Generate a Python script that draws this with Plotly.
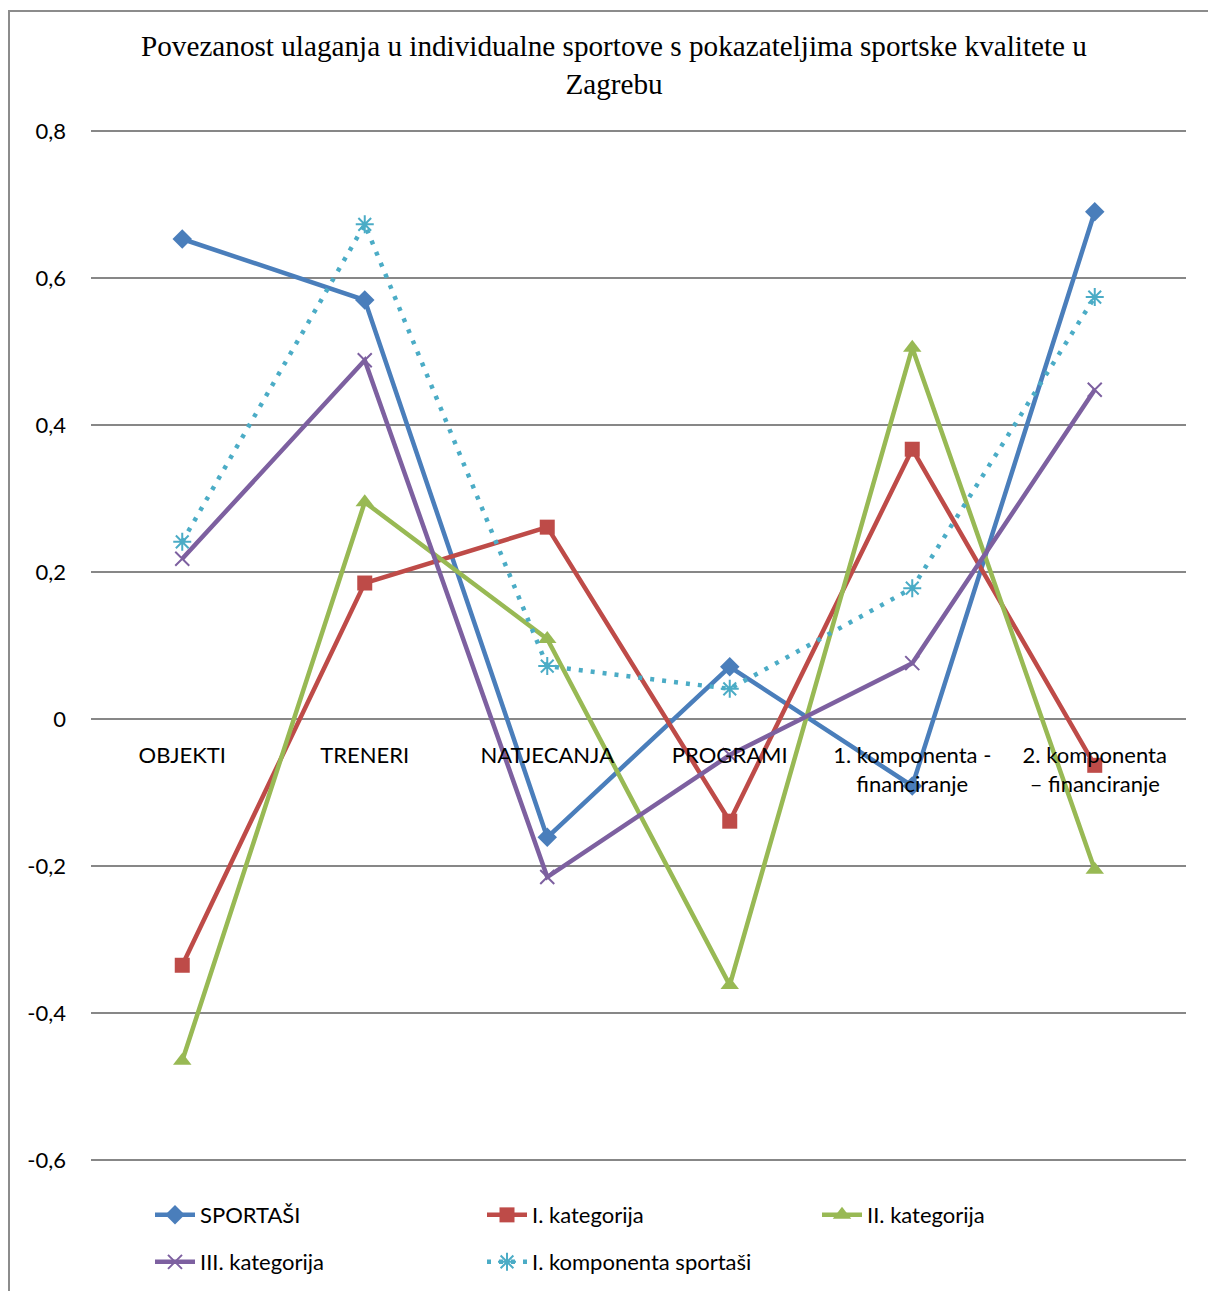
import plotly.graph_objects as go

# Categories and series values
categories = ["OBJEKTI", "TRENERI", "NATJECANJA", "PROGRAMI",
              "1. komponenta -<br>financiranje", "2. komponenta<br>– financiranje"]

sportasi = [0.653, 0.570, -0.161, 0.071, -0.091, 0.690]
kat_1 = [-0.335, 0.185, 0.261, -0.139, 0.367, -0.063]
kat_2 = [-0.465, 0.295, 0.109, -0.362, 0.505, -0.205]
kat_3 = [0.218, 0.488, -0.215, -0.049, 0.076, 0.448]
komp_sportasi = [0.241, 0.673, 0.072, 0.041, 0.178, 0.574]

y_tickvals = [-0.6, -0.4, -0.2, 0, 0.2, 0.4, 0.6, 0.8]
y_ticktext = ["-0,6", "-0,4", "-0,2", "0", "0,2", "0,4", "0,6", "0,8"]

W, H = 1208, 1291
# small padding on the value range so the -0,6 and 0,8 grid lines are drawn
PAD = 0.004
PX_PER_UNIT = 1029 / 1.4
L, R = 91, 22
T = B = 131 - PAD * PX_PER_UNIT
PW, PH = W - L - R, H - T - B


def px_x(p):
    return (p - L) / PW


def px_y(p):
    return (H - B - p) / PH


FONT = "Lato"
FS = 22
GRID = "#878787"

series = [
    ("SPORTAŠI", sportasi, "#4A7EBB", dict(symbol="diamond", size=15), "solid", "legend"),
    ("I. kategorija", kat_1, "#BE4B48", dict(symbol="square", size=15), "solid", "legend"),
    ("II. kategorija", kat_2, "#98B954", dict(symbol="triangle-up", size=16), "solid", "legend3"),
    ("III. kategorija", kat_3, "#7D60A0",
     dict(symbol="x-thin-open", size=14, line=dict(width=2, color="#7D60A0")), "solid", "legend2"),
    ("I. komponenta sportaši", komp_sportasi, "#4BACC6",
     dict(symbol="asterisk-open", size=15, line=dict(width=2, color="#4BACC6")), "4px,8px", "legend2"),
]

fig = go.Figure()
for name, vals, color, marker, dash, leg in series:
    fig.add_trace(go.Scatter(
        x=list(range(len(categories))), y=vals, name=name, mode="lines+markers",
        line=dict(color=color, width=4.5, dash=dash),
        marker=dict(color=color, **marker),
        legend=leg,
    ))


def legend_row(x_px, y_px):
    return dict(
        orientation="h", x=px_x(x_px), y=px_y(y_px), xanchor="left", yanchor="middle",
        entrywidth=277, entrywidthmode="pixels",
        font=dict(family=FONT, size=FS), bgcolor="rgba(0,0,0,0)", itemwidth=40,
    )


fig.update_layout(
    width=W, height=H,
    margin=dict(l=L, r=R, t=T, b=B, autoexpand=False),
    paper_bgcolor="white", plot_bgcolor="white",
    font=dict(family=FONT, size=FS, color="black"),
    title=dict(
        text="Povezanost ulaganja u individualne sportove s pokazateljima sportske kvalitete u<br>Zagrebu",
        font=dict(family="Liberation Serif", size=29.2, color="black"),
        x=614 / W, xanchor="center", xref="container",
        y=1 - 56 / H, yanchor="top", yref="container",
    ),
    xaxis=dict(
        tickvals=list(range(len(categories))), ticktext=categories,
        range=[-0.5, len(categories) - 0.5],
        anchor="free", position=px_y(720),
        showgrid=False, showline=False, zeroline=False,
        ticks="outside", ticklen=16, tickcolor="rgba(0,0,0,0)",
        tickfont=dict(family=FONT, size=FS),
    ),
    yaxis=dict(
        range=[-0.6 - PAD, 0.8 + PAD], tickvals=y_tickvals, ticktext=y_ticktext,
        showgrid=True, gridcolor=GRID, gridwidth=2,
        zeroline=True, zerolinecolor=GRID, zerolinewidth=2,
        showline=False, ticks="", ticklabelstandoff=24,
        tickfont=dict(family=FONT, size=FS),
    ),
    legend=legend_row(150, 1215),
    legend2=legend_row(150, 1262),
    legend3=legend_row(817, 1215),
    shapes=[dict(
        type="rect", xref="paper", yref="paper",
        x0=px_x(9), x1=px_x(1220), y0=px_y(1310), y1=px_y(11),
        line=dict(color="#8C8C8C", width=2), layer="below",
    )],
)

fig.write_html("out.html")
